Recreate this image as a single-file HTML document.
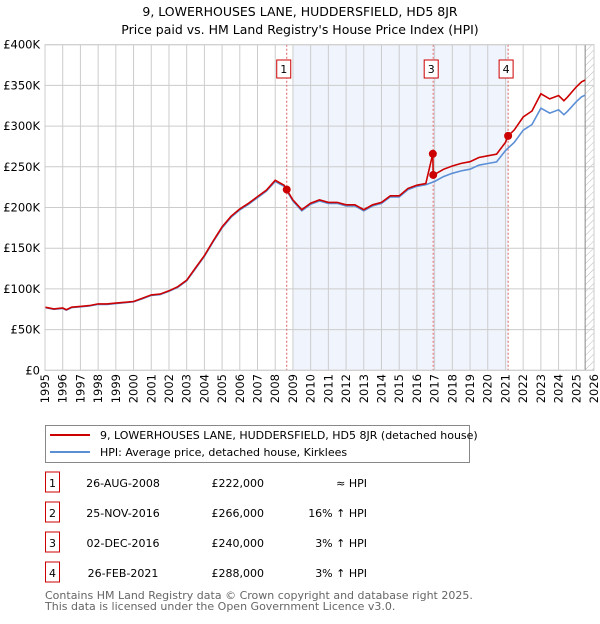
<!DOCTYPE html>
<html><head><meta charset="utf-8"><style>
body{margin:0;background:#fff;font-family:"DejaVu Sans","Liberation Sans",sans-serif;}
svg text{font-family:"DejaVu Sans","Liberation Sans",sans-serif;}
</style></head><body>
<svg id="c" width="600" height="620" xmlns="http://www.w3.org/2000/svg">
<text x="300" y="16" font-size="12.5" text-anchor="middle">9, LOWERHOUSES LANE, HUDDERSFIELD, HD5 8JR</text>
<text x="300" y="34" font-size="12.5" text-anchor="middle">Price paid vs. HM Land Registry's House Price Index (HPI)</text>
<defs><pattern id="h" width="5" height="5" patternUnits="userSpaceOnUse" patternTransform="rotate(45)"><line x1="0" y1="0" x2="0" y2="5" stroke="#bbb" stroke-width="1"/></pattern></defs>
<g id="plot"></g>
<g>
<rect x="45.5" y="425.5" width="424" height="37" fill="#fff" stroke="#888"/>
<line x1="50" y1="435" x2="90" y2="435" stroke="#cc0000" stroke-width="2"/>
<text x="100" y="439" font-size="11">9, LOWERHOUSES LANE, HUDDERSFIELD, HD5 8JR (detached house)</text>
<line x1="50" y1="452" x2="90" y2="452" stroke="#5b8fd6" stroke-width="2"/>
<text x="100" y="456" font-size="11">HPI: Average price, detached house, Kirklees</text>
</g>
<g id="tbl" font-size="11"></g>
<text x="45" y="599" font-size="11" fill="#666">Contains HM Land Registry data © Crown copyright and database right 2025.</text>
<text x="45" y="610" font-size="11" fill="#666">This data is licensed under the Open Government Licence v3.0.</text>
</svg>
<script>
const hpiYears=[1995,1995.5,1996,1996.2,1996.5,1997,1997.5,1998,1998.5,1999,1999.5,2000,2000.5,2001,2001.5,2002,2002.5,2003,2003.5,2004,2004.5,2005,2005.5,2006,2006.5,2007,2007.5,2008,2008.5,2009,2009.5,2010,2010.5,2011,2011.5,2012,2012.5,2013,2013.5,2014,2014.5,2015,2015.5,2016,2016.5,2017,2017.5,2018,2018.5,2019,2019.5,2020,2020.5,2021,2021.5,2022,2022.5,2023,2023.5,2024,2024.3,2024.5,2025,2025.3,2025.5];
const hpiValues=[77,75,76,74,77,78,79,81,81,82,83,84,88,92,93,97,102,110,125,140,158,175,188,197,204,212,220,232,226,208,196,204,208,205,205,202,202,196,202,205,213,213,222,226,228,232,238,242,245,247,252,254,256,270,280,295,302,322,316,320,314,318,330,336,338];
const saleLabels=["1","2","3","4"];
const saleDates=[2008.65,2016.9,2016.92,2021.15];
const salePrices=[222,266,240,288];
const saleDateText=["26-AUG-2008","25-NOV-2016","02-DEC-2016","26-FEB-2021"];
const salePriceText=["£222,000","£266,000","£240,000","£288,000"];
const saleHpiText=["≈ HPI","16% ↑ HPI","3% ↑ HPI","3% ↑ HPI"];
const yTicks=[0,50,100,150,200,250,300,350,400];
const yTickLabels=["£0","£50K","£100K","£150K","£200K","£250K","£300K","£350K","£400K"];
const xTicks=[];for(let y=1995;y<=2026;y++)xTicks.push(y);
const L=45,R=594,T=44.7,B=370.3,X0=1995,X1=2026;
const x=t=>L+(t-X0)/(X1-X0)*(R-L);
const y=v=>B-v/400*(B-T);
const NS="http://www.w3.org/2000/svg";
const g=document.getElementById('plot');
function mk(tag,at,p){const e=document.createElementNS(NS,tag);for(const k in at)e.setAttribute(k,at[k]);(p||g).appendChild(e);return e;}
function hpiAt(t){for(let i=1;i<hpiYears.length;i++){if(t<=hpiYears[i]){const f=(t-hpiYears[i-1])/(hpiYears[i]-hpiYears[i-1]);return hpiValues[i-1]+f*(hpiValues[i]-hpiValues[i-1]);}}return hpiValues[hpiValues.length-1];}
let e;
e=mk('rect',{x:x(2009.0),y:T,width:x(saleDates[3])-x(2009.0),height:B-T,fill:'#f0f5fd'});

e=mk('rect',{x:x(2025.5),y:T,width:R-x(2025.5),height:B-T,fill:'url(#h)'});

yTicks.forEach((v,i)=>{e=mk('line',{x1:L,x2:R,y1:y(v),y2:y(v),stroke:'#ccc'});

e=mk('text',{x:L-5,y:y(v)+4,'font-size':11.5,'text-anchor':'end'});e.textContent=yTickLabels[i];
});
xTicks.forEach(t=>{e=mk('line',{x1:x(t),x2:x(t),y1:T,y2:B,stroke:'#ccc'});

const lx=x(t)+4,ly=374;
e=mk('text',{x:lx,y:ly,'font-size':11.5,'text-anchor':'end',transform:`rotate(-90 ${lx} ${ly})`});e.textContent=t;
});
e=mk('line',{x1:x(2025.5),x2:x(2025.5),y1:T,y2:B,stroke:'#888'});

[0,2,3].forEach(i=>{e=mk('line',{x1:x(saleDates[i]),x2:x(saleDates[i]),y1:T,y2:B,stroke:'#e06060','stroke-dasharray':'2,2'});
});
let d='';hpiYears.forEach((t,i)=>{d+=(i?'L':'M')+x(t).toFixed(1)+','+y(hpiValues[i]).toFixed(1);});
e=mk('path',{d:d,fill:'none',stroke:'#5b8fd6','stroke-width':1.6});

const pts=[];const ts=hpiYears.concat(saleDates).sort((a,b)=>a-b);
ts.forEach(t=>{let k=0;for(let j=0;j<saleDates.length;j++)if(saleDates[j]<=t)k=j;
pts.push([t,hpiAt(t)*salePrices[k]/hpiAt(saleDates[k])]);});
d='';pts.forEach((p,i)=>{d+=(i?'L':'M')+x(p[0]).toFixed(1)+','+y(p[1]).toFixed(1);});
e=mk('path',{d:d,fill:'none',stroke:'#cc0000','stroke-width':1.6});

saleDates.forEach((t,i)=>{e=mk('circle',{cx:x(t),cy:y(salePrices[i]),r:4,fill:'#cc0000'});
});
const boxX=[x(saleDates[0])-3,null,x(saleDates[2])-2,x(saleDates[3])-2];
[0,2,3].forEach(i=>{e=mk('rect',{x:boxX[i]-7,y:60,width:14,height:18,fill:'#fff',stroke:'#cc0000'});

e=mk('text',{x:boxX[i],y:73,'font-size':11,'text-anchor':'middle'});e.textContent=saleLabels[i];
});
e=mk('rect',{x:L,y:T,width:R-L,height:B-T,fill:'none',stroke:'#ccc'});

const tb=document.getElementById('tbl');
saleLabels.forEach((s,i)=>{const yy=483+i*30;
e=mk('rect',{x:45.5,y:yy-11,width:14,height:20,fill:'#fff',stroke:'#cc0000'},tb);

e=mk('text',{x:52.5,y:yy+4,'text-anchor':'middle'},tb);e.textContent=s;

e=mk('text',{x:123,y:yy+4,'text-anchor':'middle'},tb);e.textContent=saleDateText[i];

e=mk('text',{x:264,y:yy+4,'text-anchor':'end'},tb);e.textContent=salePriceText[i];

e=mk('text',{x:367,y:yy+4,'text-anchor':'end'},tb);e.textContent=saleHpiText[i];
});
</script>
</body></html>
